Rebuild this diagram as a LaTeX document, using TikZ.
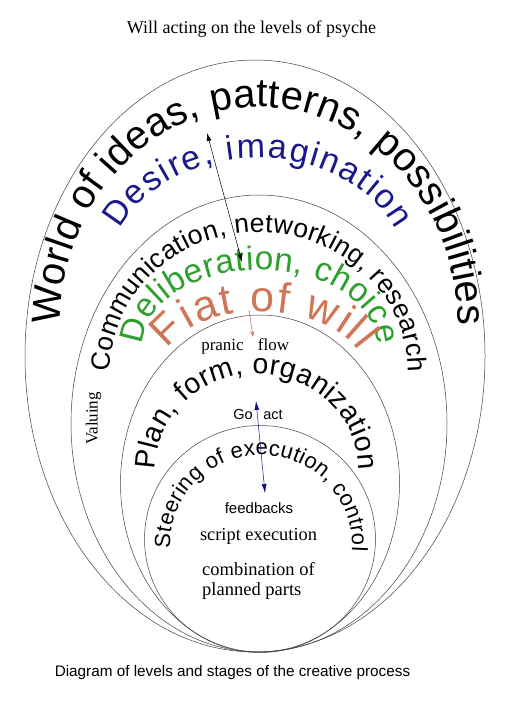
\documentclass[tikz,border=0pt]{standalone}
\usepackage{xcolor}
\usepackage{tikz}
\usetikzlibrary{positioning,arrows.meta,decorations.text}
\usepackage{fontspec}
\setmainfont{Liberation Sans}
\newfontfamily\timesfont{Liberation Serif}

\definecolor{desireblue}{RGB}{25,25,140}
\definecolor{choicegreen}{RGB}{45,160,45}
\definecolor{fiatorange}{RGB}{208,118,88}
\definecolor{actblue}{RGB}{15,15,150}
\newcommand{\px}[1]{\fontsize{#1}{#1}\selectfont}

\begin{document}
\begin{tikzpicture}[x=1pt, y=1pt,
        ring/.style={draw=black!75, line width=0.5pt},
        arctext/.style={decorate, decoration={text along path, text align={fit to path}, text={#1}}},
        serifnote/.style={font=\timesfont\px{#1}, anchor=base, inner sep=0pt},
        sansnote/.style={font=\px{#1}, anchor=base, inner sep=0pt}]
        \useasboundingbox (0,0) rectangle (509,-719);

        % Levels
        \draw[ring] (255,-356) ellipse [x radius=230pt, y radius=296pt];
        \draw[ring] (259,-423.5) ellipse [x radius=188pt, y radius=228.5pt];
        \draw[ring] (260,-483.5) ellipse [x radius=139.5pt, y radius=168.5pt];
        \draw[ring] (260,-539) ellipse [x radius=115.5pt, y radius=113.5pt];

        % Curved labels
        \path[shift={(259,-325)}, arctext={|\px{40}|World of ideas, patterns, possibilities}]
            (180:199pt and 218pt) arc[start angle=180, end angle=0, x radius=199pt, y radius=218pt];
        \path[shift={(258,-275)}, arctext={|\px{34}\color{desireblue}|Desire, imagination}]
            (157:150pt and 117pt) arc[start angle=157, end angle=23, x radius=150pt, y radius=117pt];
        \path[shift={(259,-372)}, arctext={|\px{26.5}|Communication, networking, research}]
            (180:149pt and 140pt) arc[start angle=180, end angle=0, x radius=149pt, y radius=140pt];
        \path[shift={(260,-345)}, arctext={|\px{33.5}\color{choicegreen}|Deliberation, choice}]
            (180:117pt and 75pt) arc[start angle=180, end angle=0, x radius=117pt, y radius=75pt];
        \path[arctext={|\px{43}\color{fiatorange}|Fiat of will}]
            (168,-349) .. controls (203,-297) and (325,-301) .. (358,-351);
        \path[shift={(257,-470)}, arctext={|\px{28.5}|Plan, form, organization}]
            (180:102pt and 96pt) arc[start angle=180, end angle=0, x radius=102pt, y radius=96pt];
        \path[shift={(261,-545)}, arctext={|\px{22}|Steering of execution, control}]
            (182:91pt and 90pt) arc[start angle=182, end angle=-4, x radius=91pt, y radius=90pt];

        % Plain labels
        \node[serifnote=18] (title) at (251.5,-34) {Will acting on the levels of psyche};
        \node[serifnote=17] (pranic) at (222.5,-350) {pranic};
        \node[serifnote=17] (flow) at (273.5,-350) {flow};
        \node[serifnote=17, rotate=90] (valuing) at (97.5,-418.5) {Valuing};
        \node[sansnote=14.5] (go) at (243,-419) {Go};
        \node[sansnote=14.5] (act) at (273,-419) {act};
        \node[sansnote=15] (feedbacks) at (259,-513) {feedbacks};
        \node[serifnote=18.4] (script) at (258.5,-540) {script execution};
        \node[serifnote=18.5, anchor=base west] (combination) at (202,-575) {combination of};
        \node[serifnote=18.5, anchor=base west] (planned) at (202,-595) {planned parts};
        \node[sansnote=15.3] (caption) at (232.5,-676) {Diagram of levels and stages of the creative process};

        % Arrows
        \coordinate (imagTop) at (207,-133);
        \coordinate (choiceTip) at (242,-262);
        \coordinate (fiatBase) at (249,-310);
        \coordinate (pranicTop) at (253,-337);
        \coordinate (goTop) at (256,-401);
        \coordinate (feedTop) at (265,-493);
        \draw[{Latex[length=8pt,width=5pt]}-{Latex[length=8pt,width=5pt]}, line width=0.5pt] (imagTop) -- (choiceTip);
        \draw[fiatorange, -{Stealth[length=6pt,width=4pt]}, line width=0.6pt] (fiatBase) -- (pranicTop);
        \draw[actblue, {Latex[length=9pt,width=5pt]}-{Latex[length=9pt,width=5pt]}, line width=0.5pt] (goTop) -- (feedTop);
    \end{tikzpicture}
\end{document}
